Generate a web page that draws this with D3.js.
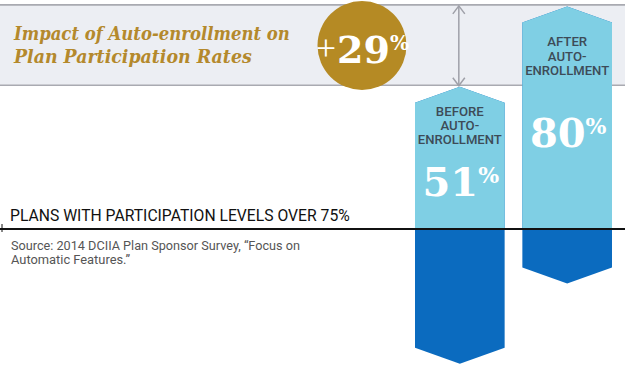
<!DOCTYPE html>
<html>
<head>
<meta charset="utf-8">
<script src="https://cdn.jsdelivr.net/npm/d3@7"></script>
<style>
  html, body { margin: 0; padding: 0; background: #fff; }
  svg { display: block; }
</style>
</head>
<body>
<div id="vis"></div>
<script>
// data
const categories = ["BEFORE", "AFTER"];
const labelLines = [["BEFORE", "AUTO-", "ENROLLMENT"], ["AFTER", "AUTO-", "ENROLLMENT"]];
const values = [51, 80];
const titleLines = ["Impact of Auto-enrollment on", "Plan Participation Rates"];
const thresholdLabel = "PLANS WITH PARTICIPATION LEVELS OVER 75%";
const sourceLines = ["Source: 2014 DCIIA Plan Sponsor Survey, \u201cFocus on", "Automatic Features.\u201d"];

// layout
const W = 625, H = 373;
const labelOffset = [29, 40];   // label baseline below the bar tip
const pctOffset = [109, 141];   // big number baseline below the bar tip
const tip = 16;                 // height of the arrow points

const colors = {
  band: "#eceef3", bandLine: "#a9aab1",
  gold: "#b58a24", title: "#b4892c",
  light: "#7fcfe4", dark: "#0b6bbf",
  label: "#3d4b57", arrow: "#9fa0a8"
};

const svg = d3.select("#vis").append("svg")
  .attr("width", W).attr("height", H);

// squeeze a text horizontally to a given width, anchored at its x
function fitWidth(sel, width, anchorX) {
  const w0 = sel.node().getComputedTextLength();
  const s = Math.min(1, width / w0);
  sel.attr("transform", `translate(${anchorX},0) scale(${s},1) translate(${-anchorX},0)`);
}

const x = d3.scaleBand().domain(categories).range([415, 612]).paddingInner(0.165).paddingOuter(0);
const y = d3.scaleLinear().domain([0, 100]).range([228, -49]);
const barLen = y(0) - y(100);

// header band spans the gap between the two values
const bandTop = y(values[1]) - 1.5, bandBot = y(values[0]) - 1.5;
svg.append("rect")
  .attr("x", 0).attr("y", bandTop).attr("width", W).attr("height", bandBot - bandTop)
  .attr("fill", colors.band);
[bandTop, bandBot].forEach(v => {
  svg.append("line").attr("x1", 0).attr("x2", W).attr("y1", v).attr("y2", v)
    .attr("stroke", colors.bandLine).attr("stroke-width", 1.6);
});

// title
const titleLen = [276, 238];
titleLines.forEach((t, i) => {
  const tt = svg.append("text").attr("x", 14).attr("y", 40 + i * 23.5)
    .attr("font-family", "'DejaVu Serif', serif")
    .attr("font-weight", "bold").attr("font-style", "italic")
    .attr("font-size", 18.5).attr("fill", colors.title).text(t);
  fitWidth(tt, titleLen[i], 14);
});

// double arrow showing the difference
const ax = x(categories[0]) + x.bandwidth() / 2 - 1;
const a0 = y(values[1]) - 0.5, a1 = y(values[0]) - 1;
const arrow = svg.append("g").attr("stroke", colors.arrow).attr("stroke-width", 1.5).attr("fill", "none");
arrow.append("line").attr("x1", ax).attr("x2", ax).attr("y1", a0).attr("y2", a1);
arrow.append("path").attr("d", `M${ax - 6},${a0 + 8}L${ax},${a0}L${ax + 6},${a0 + 8}`);
arrow.append("path").attr("d", `M${ax - 6},${a1 - 8}L${ax},${a1}L${ax + 6},${a1 - 8}`);

// gold circle with the change
const diff = values[1] - values[0];
svg.append("circle").attr("cx", 362).attr("cy", 45.5).attr("r", 44.5).attr("fill", colors.gold);
svg.append("text").attr("x", 336).attr("y", 60).attr("text-anchor", "end").attr("fill", "#fff")
  .attr("font-family", "'Liberation Serif', serif").attr("font-size", 36).text("+");
const ct = svg.append("text").attr("x", 337).attr("y", 63).attr("fill", "#fff")
  .attr("font-family", "'DejaVu Serif', serif").attr("font-weight", "bold");
ct.append("tspan").attr("font-size", 38).text(diff);
ct.append("tspan").attr("font-size", 20).attr("dy", -13).text("%");

// bars
const defs = svg.append("defs");
defs.append("clipPath").attr("id", "above")
  .append("rect").attr("x", 0).attr("y", 0).attr("width", W).attr("height", y(0) + 0.5);

function barPath(c, v) {
  const x0 = x(c), x1 = x0 + x.bandwidth(), xm = (x0 + x1) / 2;
  const t = y(v), b = t + barLen;
  return `M${x0},${t + tip}L${xm},${t}L${x1},${t + tip}L${x1},${b - tip}L${xm},${b}L${x0},${b - tip}Z`;
}

const bars = svg.selectAll(".bar").data(categories).join("g").attr("class", "bar");
bars.append("path").attr("d", (c, i) => barPath(c, values[i])).attr("fill", colors.dark);
bars.append("path").attr("d", (c, i) => barPath(c, values[i])).attr("fill", colors.light)
  .attr("clip-path", "url(#above)");

bars.each(function (c, i) {
  const g = d3.select(this);
  const cx = x(c) + x.bandwidth() / 2;
  const t = y(values[i]);
  labelLines[i].forEach((line, j) => {
    const tx = g.append("text").attr("x", cx).attr("y", t + labelOffset[i] + j * 14.2)
      .attr("text-anchor", "middle").attr("font-family", "Roboto, sans-serif")
      .attr("font-weight", 500).attr("font-size", 12).attr("fill", colors.label).text(line);
    const w = tx.node().getComputedTextLength() * 1.1;
    tx.attr("textLength", Math.min(w, 84)).attr("lengthAdjust", "spacingAndGlyphs");
  });
  const pt = g.append("text").attr("x", cx + 1).attr("y", t + pctOffset[i])
    .attr("text-anchor", "middle").attr("fill", "#fff")
    .attr("font-family", "'DejaVu Serif', serif").attr("font-weight", "bold");
  pt.append("tspan").attr("font-size", 40).text(values[i]);
  pt.append("tspan").attr("font-size", 22).attr("dy", -13).text("%");
});

// threshold line
svg.append("line").attr("x1", 0).attr("x2", W).attr("y1", y(0) + 1).attr("y2", y(0) + 1)
  .attr("stroke", "#111").attr("stroke-width", 1.8);
svg.append("line").attr("x1", 2).attr("x2", 2).attr("y1", y(0) - 4).attr("y2", y(0) + 4)
  .attr("stroke", "#111").attr("stroke-width", 1);

const thr = svg.append("text").attr("x", 10).attr("y", 221.5)
  .attr("font-family", "Roboto, sans-serif").attr("font-size", 16).attr("fill", "#111")
  .text(thresholdLabel);
fitWidth(thr, 340, 10);

const srcLen = [289, 119];
sourceLines.forEach((t, i) => {
  const st = svg.append("text").attr("x", 11).attr("y", 250 + i * 13.5)
    .attr("font-family", "Roboto, sans-serif").attr("font-size", 12).attr("fill", "#555")
    .text(t);
  st.attr("textLength", srcLen[i]).attr("lengthAdjust", "spacingAndGlyphs");
});
</script>
</body>
</html>
